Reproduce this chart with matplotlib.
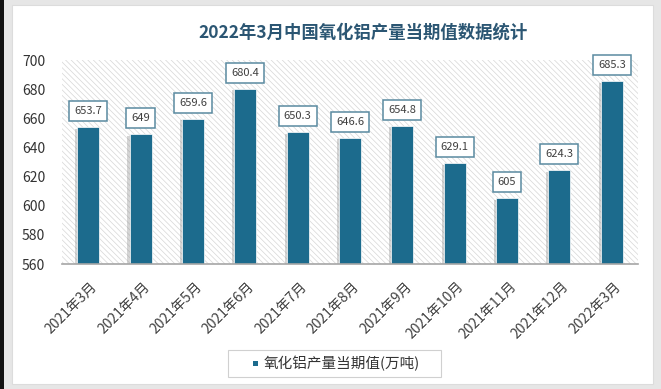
import matplotlib
matplotlib.use("Agg")
import matplotlib.pyplot as plt
from matplotlib.patches import Rectangle
import matplotlib.patheffects as pe
import matplotlib.transforms as mtransforms

plt.rcParams['font.family'] = ['Noto Sans CJK SC', 'DejaVu Sans']
plt.rcParams['hatch.linewidth'] = 0.5

categories = ["2021年3月", "2021年4月", "2021年5月", "2021年6月", "2021年7月", "2021年8月",
              "2021年9月", "2021年10月", "2021年11月", "2021年12月", "2022年3月"]
values = [653.7, 649, 659.6, 680.4, 650.3, 646.6, 654.8, 629.1, 605, 624.3, 685.3]
value_labels = ["653.7", "649", "659.6", "680.4", "650.3", "646.6", "654.8", "629.1", "605", "624.3", "685.3"]
yticks = [560, 580, 600, 620, 640, 660, 680, 700]
title = "2022年3月中国氧化铝产量当期值数据统计"
series_name = "氧化铝产量当期值(万吨)"

W, H = 661, 389
fig = plt.figure(figsize=(W / 100, H / 100), dpi=100, facecolor='#e6e6e6')

# frame pieces
fig.patches.append(Rectangle((0, 0), 4 / W, 1, transform=fig.transFigure, facecolor='#111111', edgecolor='none', zorder=-2))
fig.patches.append(Rectangle((12 / W, 5 / H), (653 - 12) / W, (384 - 5) / H, transform=fig.transFigure,
                             facecolor='white', edgecolor='#dcdcdc', linewidth=0.8, zorder=-2))

ax = fig.add_axes([62 / W, 1 - 264 / H, (638 - 62) / W, (264 - 60) / H])
ax.set_facecolor('none')
ax.set_xlim(-0.5, len(categories) - 0.5)
ax.set_ylim(560, 700)

# hatched background
ax.add_patch(Rectangle((0, 0), 1, 1, transform=ax.transAxes, facecolor='white',
                       edgecolor='#d6d6d6', hatch='\\' * 6, linewidth=0, zorder=0))

bar_color = '#1c6b8d'
x = list(range(len(categories)))
bars = ax.bar(x, [v - 560 for v in values], bottom=560, width=0.42, color=bar_color, zorder=3,
              edgecolor='white', linewidth=0.5,
              path_effects=[pe.SimplePatchShadow(offset=(-1.5, -1.0), shadow_rgbFace='#888888', alpha=0.35), pe.Normal()])

for xi, v, lab in zip(x, values, value_labels):
    ax.annotate(lab, (xi, v), xytext=(0, 11.5), textcoords='offset points', ha='center', va='center',
                fontsize=8, color='#404040', zorder=5,
                bbox=dict(boxstyle='square,pad=0.45', facecolor='white', edgecolor='#5a8aa0', linewidth=1.1))

for s in ['top', 'right', 'left']:
    ax.spines[s].set_visible(False)
ax.spines['bottom'].set_color('#a6a6a6')
ax.spines['bottom'].set_linewidth(1.2)
ax.spines['bottom'].set_zorder(4)

ax.set_yticks(yticks)
ax.set_yticklabels([str(t) for t in yticks], fontsize=10, color='#333333')
ax.tick_params(axis='y', length=0, pad=12)
ax.set_xticks(x)
ax.set_xticklabels(categories, rotation=45, ha='right', va='top', rotation_mode='anchor',
                   fontsize=10, color='#404040')
ax.tick_params(axis='x', length=0, pad=11)
offset = mtransforms.ScaledTranslation(1.5 / 72, 0, fig.dpi_scale_trans)
for lbl in ax.get_xticklabels():
    lbl.set_transform(lbl.get_transform() + offset)

fig.text(363 / W, 1 - 33 / H, title, ha='center', va='center', fontsize=12.5, fontweight='bold', color='#2b5673')

# legend
legend_box = Rectangle((228 / W, 1 - 377 / H), (441 - 228) / W, 27 / H, transform=fig.transFigure,
                       facecolor='white', edgecolor='#d0d0d0', linewidth=0.8)
fig.patches.append(legend_box)
fig.patches.append(Rectangle((253 / W, 1 - 366 / H), 5 / W, 5 / H, transform=fig.transFigure,
                             facecolor=bar_color, edgecolor='none'))
fig.text(264 / W, 1 - 363.5 / H, series_name, ha='left', va='center', fontsize=10.5, color='#333333')

fig.savefig('out.png', dpi=100, facecolor=fig.get_facecolor())
